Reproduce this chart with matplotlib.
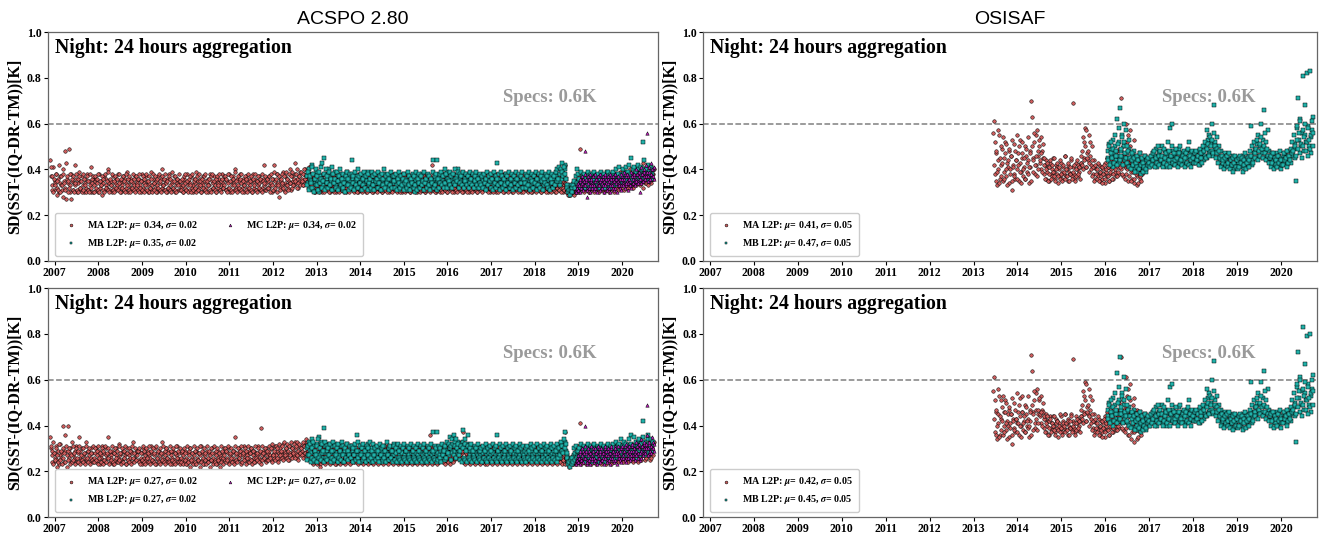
"""Night-time SD(SST - (IQ-DR-TM)) time series, ACSPO 2.80 vs OSISAF

Four panels, each record given as two interleaved weekly series (A, B)
"""
import numpy as np
import pandas as pd
import matplotlib
matplotlib.use("Agg")
from matplotlib import pyplot as plt
import matplotlib.dates as mdates

# weekly values in hundredths of K, one line ~ one year
ACSPO_TOP_MA_A = """
44 37 33 41 31 35 34 38 32 36 30 34 37 33 31 40 35 48 32 27 36 34 49 30 33 38 35 31 34 42 33 36 30 34 39 32 35 31 37 33 30 36 34 32 38 31 35 33 41 30 34 36
33 35 31 36 34 30 38 32 35 33 29 34 37 31 33 36 32 40 34 31 35 33 30 37 32 34 36 31 33 38 32 35 30 34 33 37 31 36 32 34 39 30 33 35 32 36 31 34 33 37 32 35
34 31 36 33 30 35 38 32 34 31 37 33 35 30 34 32 39 33 31 36 34 32 35 30 33 37 31 34 36 32 40 33 31 35 34 30 36 32 38 33 31 34 35 32 37 30 33 36 34 31 35 33
32 35 33 30 36 34 31 38 33 35 31 34 37 32 33 30 36 34 39 31 33 35 32 36 30 34 33 37 31 35 32 34 36 30 33 38 31 35 34 32 37 33 30 35 32 34 36 31 33 38 34 32
33 36 31 35 34 32 38 30 35 33 37 31 34 40 32 36 33 35 31 38 34 32 36 33 30 35 37 32 34 31 36 33 35 30 38 34 32 36 31 35 33 34 37 31 35 32 36 33 42 31 34 36
35 32 37 33 34 30 36 42 31 35 33 38 34 28 36 32 35 33 39 31 34 37 33 36 32 35 40 34 31 37 35 33 38 43 34 36 32 37 35 39 34 36 33 38 35 40 36 34 37 35 38 34
33 36 31 35 34 30 37 32 35 33 31 36 34 30 38 33 35 32 34 31 36 33 30 35 34 32 37 31 33 35 30 34 36 32 33 31 35 34 38 32 33 30 36 34 31 35 33 32 37 34 31 33
34 31 36 33 30 35 32 38 34 31 33 36 32 35 30 34 37 33 31 35 32 34 30 36 33 35 31 34 39 32 33 36 30 35 34 31 37 33 32 35 34 30 33 36 32 35 31 34 33 37 32 34
33 35 31 34 36 30 33 37 32 35 34 31 36 33 30 35 32 34 38 33 31 35 34 30 36 33 32 35 31 34 37 33 30 35 34 32 36 31 33 35 42 34 31 36 33 30 35 32 34 36 33 31
34 32 36 33 31 35 30 37 34 32 35 33 31 36 34 30 33 38 32 35 33 31 34 36 32 35 30 34 33 37 31 35 33 30 36 34 32 35 31 33 34 36 30 35 32 34 33 31 36 34 32 35
33 35 31 34 32 36 30 35 33 34 31 36 33 30 35 34 32 37 31 33 35 32 34 30 36 33 31 35 34 32 33 36 30 34 35 31 33 36 32 34 31 35 33 30 34 36 32 33 35 31 34 33
34 31 35 33 30 36 32 34 33 35 31 34 36 32 33 30 35 34 31 36 33 32 35 30 34 33 36 31 34 32 35 33 30 34 32 36 31 33 35 32 34 30 33 42 31 32 30 31 29 32 31 30
32 34 31 33 35 32 30 34 33 49 36 32 35 33 31 34 36 32 35 33 30 34 37 32 35 33 31 36 34 32 35 33 38 31 34 36 32 35 33 34 31 36 34 33 35 32 37 34 33 36 32 35
34 36 33 35 32 37 34 36 33 35 38 34 32 36 35 33 37 34 36 35 33 38 36 34 37 35 39 36 34 41 37 35 38 43 36 34 37 39 35 36 38 35 37 40 36 38
"""
ACSPO_TOP_MA_B = """
41 31 37 30 36 33 38 29 35 31 42 30 37 33 38 28 34 31 43 37 30 35 32 38 27 36 31 37 30 34 38 31 36 30 37 32 35 30 38 31 36 33 30 37 31 35 30 38 32 36 30 37
30 37 32 36 31 38 30 35 33 37 31 36 30 38 32 35 31 39 30 36 33 38 31 35 30 37 32 36 31 34 38 30 36 32 37 31 35 30 38 33 36 31 37 30 35 32 38 31 36 30 37 33
36 30 38 32 35 31 37 30 36 33 38 31 35 30 37 32 36 30 38 31 34 37 30 36 32 38 31 35 30 37 33 36 31 38 30 35 32 37 31 36 30 39 32 35 31 37 30 36 33 38 31 35
31 36 30 37 32 38 31 35 30 36 33 37 30 38 31 35 32 36 30 37 31 38 33 35 30 36 32 37 31 38 30 35 33 36 31 37 30 38 32 35 31 36 30 37 33 38 31 35 30 36 32 37
37 31 36 30 38 32 35 31 37 30 36 33 39 31 35 30 37 32 36 31 38 30 35 33 37 31 36 30 38 32 35 31 37 30 36 33 38 31 35 30 37 32 36 31 38 30 35 34 37 31 36 32
32 37 30 38 33 36 31 39 32 36 30 38 33 37 31 36 34 38 32 37 30 39 33 36 31 38 34 37 32 39 33 36 35 38 32 40 34 37 33 39 35 38 33 40 36 37 34 39 35 41 36 38
35 31 37 30 36 32 38 31 35 30 37 33 36 31 38 30 35 32 37 31 36 30 38 33 35 31 37 30 36 32 38 31 35 30 37 33 36 31 38 30 35 32 37 31 36 30 38 33 35 31 37 30
31 37 30 36 32 38 31 35 30 37 33 36 31 38 30 35 32 37 31 36 30 38 33 35 31 37 30 36 32 38 31 35 30 37 33 36 31 38 30 35 32 37 31 36 30 38 33 35 31 37 30 36
36 30 38 31 35 32 37 30 36 31 38 33 35 30 37 31 36 32 38 30 35 31 37 33 36 30 38 31 35 32 37 30 36 31 38 33 35 30 37 31 36 32 38 30 35 31 37 33 36 30 38 31
30 36 32 38 31 35 30 37 33 36 31 38 30 35 32 37 31 36 30 38 33 35 31 37 30 36 32 38 31 35 30 37 33 36 31 38 30 35 32 37 31 36 30 38 33 35 31 37 30 36 32 38
37 31 35 30 38 32 36 31 37 30 35 33 38 31 36 30 37 32 35 31 38 30 36 33 37 31 35 30 38 32 36 31 37 30 35 33 38 31 36 30 37 32 35 31 38 30 36 33 37 31 35 30
31 36 30 38 32 35 31 37 30 36 33 38 31 35 30 37 32 36 31 38 30 35 33 37 31 36 30 38 32 35 31 37 30 36 33 38 31 35 30 37 32 35 31 34 30 31 29 30 31 29 30 31
30 31 29 32 30 35 31 37 30 36 32 38 31 35 30 37 33 36 31 38 30 35 32 37 31 36 30 38 33 35 31 37 30 36 32 38 31 35 30 37 33 36 31 38 30 35 32 37 31 36 30 38
32 38 31 36 33 39 32 37 34 38 31 36 33 39 32 37 34 40 33 36 32 38 34 39 33 37 35 40 33 38 34 39 32 37 35 40 34 38 33 39 35 41 34 38 36 40
"""
ACSPO_TOP_MB_A = """
37 34 40 32 36 35 42 31 38 34 36 33 39 35 30 37 34 41 36 33 45 35 38 32 36 34 40 37 33 35 38 31 36 34 39 33 35 37 32 36 34 38 35 31 37 34 36 33 39 35 34 37
35 33 44 36 34 38 32 35 37 33 36 34 31 38 35 33 37 34 36 32 35 39 33 36 34 31 37 35 33 38 34 36 32 35 37 33 34 36 31 35 38 34 33 36 35 32 37 34 36 33 35 34
34 36 32 35 33 37 31 34 36 33 35 32 38 34 33 36 31 35 34 37 33 35 32 36 34 30 35 33 37 34 32 36 35 33 38 34 31 35 36 33 34 37 32 35 33 36 34 44 35 33 36 34
44 35 37 34 36 33 38 35 34 37 33 36 39 35 34 37 32 36 35 38 34 36 33 37 35 40 34 36 38 35 33 37 35 34 38 36 33 35 37 34 36 33 35 38 34 36 32 35 37 34 36 35
34 36 33 35 37 32 35 34 36 33 35 38 34 32 36 35 33 37 34 43 35 33 36 34 32 37 35 33 36 34 38 33 35 34 32 36 35 33 37 34 35 32 36 34 33 37 35 34 32 36 35 33
34 36 33 35 32 37 34 35 33 36 34 32 37 35 33 36 34 38 33 35 36 32 34 37 33 35 34 36 32 35 33 37 34 35 32 36 34 33 37 35 34 36 33 35 38 36 39 37 42 40 36 33
31 30 32 31 33 30 32 34 33 35 32 40 34 36 33 35 32 34 37 33 35 34 32 36 33 35 38 34 32 36 35 33 37 34 36 32 35 34 38 33 36 35 34 37 33 36 35 39 34 36 35 34
36 34 37 35 38 33 36 35 37 34 36 38 35 37 34 36 39 35 37 36 38 35 37 34 45 36 38 35 37 39 36 38 40 37 35 39 38 36 52 40 37 39 36 38 41 37 39 36 40 38
"""
ACSPO_TOP_MB_B = """
33 39 31 37 34 41 32 38 30 36 40 33 37 31 39 34 36 32 43 35 38 31 40 34 37 32 39 33 36 41 31 38 34 36 32 39 35 31 37 40 33 36 32 38 34 30 37 39 33 36 31 38
32 38 34 37 31 39 33 36 40 32 37 34 38 31 36 33 39 32 37 35 31 38 34 36 32 39 33 37 31 38 35 36 32 39 34 37 31 38 33 36 40 32 37 34 38 31 36 33 39 32 37 35
37 32 38 31 36 34 39 32 37 33 36 31 38 34 35 32 39 33 37 31 36 34 38 32 37 33 39 31 36 34 38 32 37 33 35 31 39 34 36 32 38 33 37 31 36 34 39 32 37 33 38 31
36 32 38 34 39 33 37 32 40 34 38 32 36 35 39 33 37 32 38 34 40 33 36 35 39 32 38 34 37 33 39 32 36 35 38 33 37 32 39 34 36 33 38 32 37 35 39 33 36 32 38 34
33 37 32 38 34 36 31 39 33 37 35 38 32 36 31 39 34 37 32 36 33 38 31 39 34 37 32 36 33 38 31 37 34 39 32 36 33 38 31 37 34 39 32 36 33 38 31 37 34 39 32 36
34 38 32 37 33 39 31 36 35 38 32 37 34 39 31 36 33 38 32 37 35 39 31 36 34 38 33 37 32 39 31 36 34 38 32 37 33 39 35 40 36 41 38 40 39 43 37 41 38 36 33 32
30 31 29 31 32 30 33 35 32 37 34 38 33 36 32 39 34 37 33 38 32 36 34 39 33 37 32 38 34 36 33 39 32 37 34 38 33 36 32 39 34 37 33 38 32 36 34 39 33 37 32 38
34 39 33 37 35 40 34 38 36 41 33 37 35 40 34 38 36 41 35 39 34 42 36 38 35 40 37 41 34 39 36 42 35 38 37 41 36 40 38 44 36 40 37 42 35 39 38 41 36 40
"""
ACSPO_TOP_MC_A = """
31 33 32 34 31 35 33 32 34 36 33 48 35 32 28 34 36 33 35 32 34 37 33 35 32 36 34 33 37 35 32 34 36 33 35 37 34 32 36 34 35 33 37 34 36 32 35 38 34 36 33 35
34 36 33 37 35 34 36 38 33 35 37 34 36 35 33 38 36 34 37 35 36 34 38 35 37 30 36 38 35 37 39 36 38 56 37 35 39 36 38 37 40 36
"""
ACSPO_TOP_MC_B = """
30 32 31 33 30 36 32 37 31 35 38 33 36 31 37 32 38 30 36 33 37 31 38 32 36 30 37 33 38 31 36 32 37 30 38 33 36 31 37 32 38 30 36 33 37 31 38 32 36 30 37 33
32 38 31 36 33 39 32 37 34 38 31 36 33 39 32 37 34 38 33 40 35 38 34 39 36 41 34 38 35 40 36 42 37 39 35 41 36 43 38 40 37 41
"""
ACSPO_BOT_MA_A = """
35 30 27 33 24 28 26 31 25 29 23 27 32 26 28 40 24 36 29 20 27 40 26 30 28 24 33 27 25 29 26 31 24 28 35 26 29 25 30 27 24 28 26 33 25 29 27 24 30 26 28 25
26 28 24 30 27 25 29 23 27 26 31 25 28 24 27 30 26 35 28 24 27 26 29 23 28 25 30 27 24 26 32 27 25 28 24 29 26 27 23 28 30 25 27 26 29 24 28 33 26 25 27 29
27 25 29 24 26 28 23 30 26 27 25 28 24 29 27 26 31 24 28 25 27 30 23 26 28 25 29 27 24 33 26 28 25 27 30 24 26 29 25 28 27 23 26 29 25 28 27 31 24 26 28 25
26 28 25 27 24 29 26 23 28 25 27 30 24 26 28 25 27 23 29 26 25 28 24 27 31 25 26 28 23 27 25 29 26 24 28 27 25 30 24 26 28 25 27 23 26 29 24 27 26 25 28 26
27 25 29 26 28 24 30 27 25 28 26 29 24 35 27 25 28 30 26 27 24 29 27 26 31 25 28 27 24 29 26 28 30 25 27 29 26 24 28 27 31 26 28 25 39 27 29 26 28 25 30 27
28 26 29 27 25 30 27 28 26 31 27 29 25 28 30 26 28 27 32 29 26 28 30 27 29 25 31 28 27 30 29 27 33 28 30 26 29 31 28 27 30 29 32 28 31 27 33 29 30 28 31 29
27 25 28 26 29 24 27 26 28 25 23 27 29 26 25 28 24 27 30 26 25 28 26 24 29 27 25 28 26 23 27 29 25 26 28 24 27 30 25 27 26 28 24 27 25 29 26 28 27 24 26 28
27 25 28 26 24 29 27 26 30 25 28 26 27 24 29 25 27 28 26 30 24 27 25 28 26 29 27 24 28 26 25 29 27 26 28 24 27 25 29 26 28 27 25 30 26 24 28 27 26 29 25 27
26 28 25 27 29 24 26 28 27 25 30 26 28 24 27 29 25 27 26 28 24 27 29 25 28 26 27 31 25 28 26 27 24 29 26 28 27 25 36 26 28 27 25 29 24 27 26 28 25 27 29 26
27 25 28 26 29 24 27 28 26 25 29 27 26 28 30 25 27 29 26 28 31 29 30 32 28 37 31 29 30 28 27 25 28 26 24 27 29 26 25 28 27 24 26 29 25 28 27 26 24 28 26 27
25 28 26 27 24 29 26 28 25 27 26 24 28 27 25 29 26 28 24 27 25 28 26 24 29 27 25 28 26 24 27 29 25 26 28 24 27 26 29 25 28 26 24 27 25 28 26 29 24 27 26 28
27 25 28 26 24 29 27 26 25 28 26 29 24 27 25 28 26 27 24 29 25 27 28 26 24 27 29 25 26 28 27 24 26 29 25 28 26 27 25 24 28 26 27 25 37 26 24 25 23 24 25 24
25 27 24 26 28 25 27 24 26 41 28 25 27 29 26 24 28 27 25 29 26 28 24 27 30 25 28 26 27 29 25 28 30 26 27 29 25 28 26 31 27 29 26 28 25 30 27 26 29 28 26 28
27 29 26 28 25 30 27 28 26 29 27 31 28 26 29 27 30 28 26 29 28 31 27 29 26 30 28 27 32 29 28 30 27 29 31 28 26 30 28 29 27 31 28 30 29 32
"""
ACSPO_BOT_MA_B = """
31 24 29 23 28 25 30 22 27 24 32 25 29 23 30 26 28 24 31 22 29 25 30 23 27 24 31 25 28 23 30 26 29 24 31 23 27 25 30 24 28 23 31 26 29 24 30 23 28 25 31 24
24 30 25 29 23 31 26 28 24 30 23 29 25 31 24 28 26 30 23 29 25 31 24 28 23 30 26 29 24 31 25 28 23 30 24 29 26 31 23 28 25 30 24 29 23 31 26 28 24 30 25 29
29 24 30 23 28 25 31 24 29 23 30 26 28 24 31 23 29 25 30 24 28 23 31 26 29 24 30 23 28 25 31 24 29 23 30 26 28 24 31 23 29 25 30 24 28 23 31 26 29 24 30 23
24 29 23 30 25 28 23 31 24 29 22 30 25 28 23 31 24 29 23 30 25 28 22 31 24 29 23 30 25 28 23 31 24 29 22 30 25 28 23 31 24 29 23 30 25 28 22 31 24 29 23 30
30 24 29 25 31 23 28 26 30 24 29 23 31 25 28 24 30 26 29 23 31 24 28 25 30 23 29 26 31 24 28 25 30 23 29 24 31 26 28 25 30 24 29 23 31 25 28 26 30 24 29 25
25 31 26 30 24 32 27 29 25 31 26 30 24 32 27 29 26 31 25 33 27 30 26 32 25 31 27 33 26 30 28 32 26 31 27 33 25 32 28 30 27 33 26 31 28 34 27 32 29 33 27 31
24 29 23 30 25 28 23 31 24 29 22 30 25 28 24 31 23 29 25 30 24 28 23 31 25 29 24 30 23 28 25 31 24 29 23 30 25 28 24 31 23 29 25 30 24 28 23 31 25 29 24 30
29 24 30 23 28 25 31 24 29 23 30 25 28 24 31 23 29 25 30 24 28 23 31 25 29 24 30 23 28 25 31 24 29 23 30 25 28 24 31 23 29 25 30 24 28 23 31 25 29 24 30 23
24 30 25 29 23 31 24 28 25 30 23 29 24 31 25 28 23 30 24 29 25 31 23 28 24 30 25 29 23 31 24 28 25 30 23 29 24 31 25 28 23 30 24 29 25 31 23 28 24 30 25 29
30 24 29 23 31 25 28 24 30 23 29 25 31 24 28 26 31 27 32 28 33 27 31 26 29 24 30 23 28 25 31 24 29 23 30 25 28 24 31 23 29 25 30 24 28 23 31 25 29 24 30 23
24 29 23 30 25 28 24 31 23 29 25 30 24 28 23 31 25 29 24 30 23 28 25 31 24 29 23 30 25 28 24 31 23 29 25 30 24 28 23 31 25 29 24 30 23 28 25 31 24 29 23 30
29 24 30 23 28 25 31 24 29 23 30 25 28 24 31 23 29 25 30 24 28 23 31 25 29 24 30 23 28 25 31 24 29 23 30 25 28 24 31 23 29 25 30 23 26 24 23 25 22 24 23 25
23 25 24 30 23 29 25 31 24 28 23 30 25 29 24 31 23 28 25 30 24 29 23 31 25 28 24 30 23 29 25 31 24 28 23 30 25 29 24 31 23 28 25 30 24 29 23 31 25 28 24 30
25 30 24 31 26 29 25 32 24 30 26 31 25 29 24 32 26 30 25 31 24 29 26 32 25 30 24 31 26 33 25 30 27 31 25 32 26 30 27 33 25 31 26 32 27 33
"""
ACSPO_BOT_MB_A = """
30 27 33 25 29 28 34 24 31 27 29 26 32 28 35 30 27 33 29 26 39 28 31 25 29 27 32 30 26 28 31 24 29 27 32 26 28 30 25 29 27 31 28 24 30 27 29 26 32 28 27 30
28 26 31 29 27 30 25 28 36 27 29 27 24 31 28 26 30 27 29 25 28 32 26 29 27 24 30 28 26 31 27 29 25 28 30 26 27 29 24 28 31 27 26 29 28 25 30 27 29 26 28 27
27 29 25 28 26 30 24 27 29 26 28 25 31 27 26 29 24 28 27 30 26 28 25 29 27 24 28 26 30 27 25 29 28 26 31 27 24 28 29 26 27 30 25 28 26 29 27 37 28 26 29 27
37 28 30 27 29 26 31 28 27 30 26 29 32 28 27 30 25 29 28 31 27 29 26 30 28 33 29 31 32 30 38 33 31 34 30 32 36 29 31 27 29 26 28 30 27 29 25 28 30 27 29 28
27 29 26 28 30 25 28 27 29 26 28 31 27 25 29 28 26 30 27 36 28 26 29 27 25 30 28 26 29 27 31 26 28 27 25 29 28 26 30 27 28 25 29 27 26 30 28 27 25 29 28 26
27 29 26 28 25 30 27 28 26 29 27 25 30 28 26 29 27 31 26 28 29 25 27 30 26 28 27 29 25 28 26 30 27 28 25 29 27 26 30 28 27 29 26 28 31 29 32 30 37 33 29 27
24 23 25 24 26 23 25 27 26 28 25 29 27 28 26 28 25 27 30 26 28 27 25 29 26 28 31 27 25 29 28 26 30 27 29 25 28 27 30 26 29 28 27 30 26 29 28 31 27 29 28 27
29 27 30 28 31 26 29 28 30 27 29 31 28 30 27 29 32 28 30 29 31 28 30 27 36 29 31 28 30 32 29 31 33 30 28 32 31 29 42 33 30 32 29 31 34 30 32 29 33 31
"""
ACSPO_BOT_MB_B = """
25 31 27 32 24 30 26 33 25 29 27 31 24 34 26 30 25 32 28 29 24 33 26 31 25 30 27 32 24 29 26 33 25 31 27 30 24 32 26 29 25 33 27 31 24 30 26 32 25 29 27 31
26 31 24 30 27 32 25 29 26 33 24 31 27 30 25 32 26 29 24 31 27 30 25 33 26 29 24 32 27 30 25 31 26 29 24 32 27 30 25 31 26 29 24 33 27 30 25 31 26 29 24 32
31 25 30 24 32 26 29 25 31 24 30 26 32 25 29 24 31 26 30 25 32 24 29 26 31 25 30 24 32 26 29 25 31 24 30 26 32 25 29 24 31 26 30 25 32 24 29 26 31 25 30 24
25 31 26 30 24 32 27 29 25 31 26 33 28 32 30 35 31 34 32 36 33 31 34 30 32 27 29 25 31 24 30 26 32 25 29 24 31 26 30 25 32 24 29 26 31 25 30 24 32 26 29 25
30 24 31 26 29 25 32 24 30 26 31 25 29 24 32 26 30 25 31 24 29 26 32 25 30 24 31 26 29 25 32 24 30 26 31 25 29 24 32 26 30 25 31 24 29 26 32 25 30 24 31 26
25 30 24 31 26 29 25 32 24 30 26 31 25 29 24 32 26 30 25 31 24 29 26 32 25 30 24 31 26 29 25 32 24 30 26 31 25 29 24 32 26 30 27 33 29 31 28 34 30 32 26 28
23 24 22 25 23 26 24 30 25 31 26 29 24 30 27 32 25 29 26 31 24 30 27 32 25 29 26 31 24 30 27 32 25 29 26 31 24 30 27 32 25 29 26 31 24 30 27 32 25 29 26 31
26 32 27 30 25 33 28 31 26 32 27 34 28 31 26 33 29 32 27 30 28 34 26 32 29 31 27 35 28 33 26 31 29 34 27 32 28 35 30 33 27 31 29 36 28 32 30 34 29 33
"""
ACSPO_BOT_MC_A = """
24 26 25 27 24 28 26 25 27 29 26 40 28 25 23 27 29 26 28 25 27 30 26 28 25 29 27 26 30 28 25 27 29 26 28 30 27 25 29 27 28 26 30 27 29 25 28 31 27 29 26 28
27 29 26 30 28 27 29 31 26 28 30 27 29 28 26 31 29 27 30 28 29 27 31 28 30 25 29 31 28 30 32 29 31 49 30 28 32 29 31 30 33 29
"""
ACSPO_BOT_MC_B = """
23 25 24 26 23 29 25 30 24 28 31 26 29 24 30 25 28 23 31 26 29 24 30 25 28 23 31 26 29 24 30 25 28 23 31 26 29 24 30 25 28 23 31 26 29 24 30 25 28 23 31 26
25 30 24 31 26 29 25 32 24 30 26 31 25 29 27 32 26 30 25 33 27 31 26 32 28 34 26 31 27 33 28 32 30 36 27 33 29 31 28 35 30 32
"""
OSISAF_TOP_MA_A = """
56 61 38 47 33 44 40 55 36 42 49 35 45 39 52 37 43 41 34 48 40 46 31 42 38 51 36 44 40 47 35 43 53 39 45 37 41 50 36 46 39 44 34 48 41 70 63 45 52 38 55 42
57 46 50 43 54 40 48 45 38 42 36 44 39 41 35 43 38 40 37 45 39 36 42 38 41 34 40 37 43 39 36 41 38 46 37 40 35 42 39 38 44 37 41 69 38 36 43 40 37 42 39 41
43 48 40 52 45 58 41 47 44 55 39 46 42 50 38 44 41 36 40 38 37 42 35 39 41 36 40 38 34 43 39 37 41 35 44 38 40 47 36 42 39 44 37 48 41 38 45 40 71 43 37 46
41 60 38 52 35 44 57 39 42 36 48 34 40 45 37 33 43 39 36 41 38
"""
OSISAF_TOP_MA_B = """
42 52 35 48 39 57 34 45 50 37 43 54 36 47 40 51 33 44 49 38 46 35 53 41 37 48 44 55 36 42 50 39 34 47 52 40 45 36 49 43 38 54 41 47 35 50 44 39 56 42 46 37
48 40 53 44 47 39 51 42 45 36 40 43 35 41 38 44 36 42 39 37 45 35 40 43 37 41 36 44 38 35 42 39 46 36 40 37 43 35 41 38 45 36 39 42 35 40 37 44 38 41 36 43
46 42 54 44 50 41 57 45 48 43 52 40 44 37 41 35 42 38 36 40 43 35 39 37 41 34 38 42 36 40 45 37 41 35 39 43 36 42 38 44 40 46 37 43 39 49 41 45 38 50 42 44
36 47 40 55 37 43 50 35 45 39 53 36 41 38 46 34 40 37 44 35 39
"""
OSISAF_TOP_MB_A = """
48 45 51 43 49 46 53 41 47 50 44 62 46 52 43 67 48 55 45 60 50 44 57 47 42 49 53 45 41 46 43 48 40 44 46 39 42 45 41 47 38 43 44 40 46 42 39 45 43 41 44 42
45 43 47 42 46 44 49 41 45 47 43 46 44 50 42 45 48 44 46 41 47 43 58 45 60 44 48 42 46 45 43 47 44 49 42 46 45 43 47 44 46 42 48 45 43 52 44 47 45 43 46 44
45 47 43 46 44 48 42 46 45 47 44 49 46 50 45 53 47 55 48 51 60 46 68 49 52 47 54 45 50 46 44 48 42 45 43 47 41 44 46 42 43 45 41 44 42 46 40 43 45 42 44 41
43 45 41 44 42 46 40 43 45 42 44 41 46 43 59 45 42 44 47 49 45 51 48 55 46 50 60 47 53 45 66 49 52 46 57 44 48 45 43 47 44 46 42 45 43 47 41 46 44 42 45 43
44 46 43 47 45 42 46 44 48 45 43 47 46 49 45 51 35 58 71 53 47 62 50 56 81 48 55 68 52 82 59 50 83 54 47 57 63
"""
OSISAF_TOP_MB_B = """
44 50 42 47 52 45 49 43 55 46 48 42 51 58 44 49 46 54 42 52 47 45 50 43 48 41 45 40 44 47 42 45 39 43 46 41 44 40 47 42 45 39 43 41 46 40 44 42 45 43 41 46
42 47 44 48 41 45 43 50 46 42 48 44 46 41 49 43 45 47 42 52 44 48 41 46 50 43 47 44 42 49 45 41 47 43 50 44 42 46 48 41 45 47 43 49 42 46 44 41 48 45 43 47
43 48 44 46 42 49 45 47 43 50 48 52 45 57 49 51 46 54 50 48 53 47 56 50 45 49 47 43 48 45 41 46 43 44 40 45 42 46 41 43 47 40 44 42 45 39 43 46 41 44 40 45
41 46 43 45 39 44 42 47 40 43 45 41 44 48 46 50 43 52 47 45 49 53 44 48 51 46 54 49 45 50 47 56 44 49 46 43 45 41 46 43 47 40 45 42 44 41 46 43 48 40 44 42
42 47 44 45 41 48 43 46 44 49 47 52 48 55 50 46 53 59 49 56 61 51 45 57 50 54 60 48 52 58 46 53 49 55 61 50 56
"""
OSISAF_BOT_MA_A = """
55 61 37 46 34 45 41 53 36 43 48 36 46 40 51 38 42 40 35 47 41 45 32 43 39 50 37 43 41 46 36 44 52 40 46 38 42 49 37 45 40 43 35 47 42 71 64 46 51 39 54 43
56 45 51 44 53 41 47 46 39 43 37 45 40 42 36 44 39 41 38 44 40 37 43 39 42 35 41 38 44 40 37 42 39 45 38 41 36 43 40 39 45 38 42 69 39 37 44 41 38 43 40 42
44 49 41 53 46 59 42 48 45 56 40 47 43 51 39 45 42 37 41 39 38 43 36 40 42 37 41 39 35 44 40 38 42 36 45 39 41 48 37 43 40 45 38 47 42 39 46 41 70 44 38 47
42 61 39 53 36 45 58 40 43 37 49 33 41 46 38 34 44 40 37 42 39
"""
OSISAF_BOT_MA_B = """
43 51 36 47 40 56 35 44 51 38 42 53 37 46 41 50 34 45 48 39 45 36 52 42 38 47 43 54 37 41 49 40 35 46 53 41 44 37 48 42 39 53 40 46 36 49 45 38 55 41 47 38
47 41 52 45 46 40 50 43 44 37 41 44 36 42 39 43 37 41 40 38 44 36 41 42 38 40 37 45 39 36 41 40 45 37 41 38 42 36 42 39 44 37 40 41 36 41 38 43 39 42 37 44
47 43 55 45 51 42 58 46 49 44 53 41 45 38 42 36 43 39 37 41 44 36 40 38 42 35 39 43 37 41 46 38 42 36 40 44 37 43 39 45 41 47 38 44 40 50 42 46 39 51 43 45
37 48 41 56 36 44 51 34 46 40 52 37 42 39 47 35 41 38 45 36 40
"""
OSISAF_BOT_MB_A = """
47 44 50 42 48 45 52 40 46 49 43 63 45 51 42 70 47 54 44 61 49 43 56 46 41 48 52 44 40 45 42 47 39 43 45 38 41 44 40 46 37 42 43 39 45 41 38 44 42 40 43 41
44 42 46 41 45 43 48 40 44 46 42 45 43 49 41 44 47 43 45 40 46 42 57 44 58 43 47 41 45 44 42 46 43 48 41 45 44 42 46 43 45 41 47 44 42 51 43 46 44 42 45 43
44 46 42 45 43 47 41 45 44 46 43 48 45 49 44 52 46 54 47 50 60 45 68 48 51 46 53 44 49 45 43 47 41 44 42 46 40 43 45 41 42 44 40 43 41 45 39 42 44 41 43 40
42 44 40 43 41 45 39 42 44 41 43 40 45 42 59 44 41 43 46 48 44 50 47 54 45 49 59 46 52 44 64 48 51 45 56 43 47 44 42 46 43 45 41 44 42 46 40 45 43 41 44 42
43 45 42 46 44 41 45 43 47 44 42 46 45 48 44 50 33 57 72 52 46 61 49 55 83 47 54 67 51 79 58 49 80 53 46 56 62
"""
OSISAF_BOT_MB_B = """
43 49 41 46 51 44 48 42 54 45 47 41 50 57 43 48 45 53 41 51 46 44 49 42 47 40 44 39 43 46 41 44 38 42 45 40 43 39 46 41 44 38 42 40 45 39 43 41 44 42 40 45
41 46 43 47 40 44 42 49 45 41 47 43 45 40 48 42 44 46 41 51 43 47 40 45 49 42 46 43 41 48 44 40 46 42 49 43 41 45 47 40 44 46 42 48 41 45 43 40 47 44 42 46
42 47 43 45 41 48 44 46 42 49 47 51 44 56 48 50 45 53 49 47 52 46 55 49 44 48 46 42 47 44 40 45 42 43 39 44 41 45 40 42 46 39 43 41 44 38 42 45 40 43 39 44
40 45 42 44 38 43 41 46 39 42 44 40 43 47 45 49 42 51 46 44 48 52 43 47 50 45 53 48 44 49 46 55 43 48 45 42 44 40 45 42 46 39 44 41 43 40 45 42 47 39 43 41
41 46 43 44 40 47 42 45 43 48 46 51 47 54 49 45 52 58 48 55 60 50 44 56 49 53 59 47 51 57 45 52 48 54 60 49 55
"""

# first sample date of each satellite record
START_MA = "2006-11-25"
START_MB = "2012-10-12"
START_MC = "2018-12-10"
START_OSI_MA = "2013-06-15"
START_OSI_MB = "2016-01-20"

# legend statistics (mu, sigma)
ACSPO_TOP_STATS = [(0.34, 0.02), (0.35, 0.02), (0.34, 0.02)]
ACSPO_BOT_STATS = [(0.27, 0.02), (0.27, 0.02), (0.27, 0.02)]
OSISAF_TOP_STATS = [(0.41, 0.05), (0.47, 0.05)]
OSISAF_BOT_STATS = [(0.42, 0.05), (0.45, 0.05)]

SATS = ["MA", "MB", "MC"]
COLORS = ["#cd5c5c", "#20b2aa", "#b51cb5"]
MARKERS = ["o", "s", "^"]

SPEC = 0.6
XLIM = ("2006-11-05", "2020-10-28")

plt.rcParams['font.family'] = ['Liberation Serif', 'DejaVu Serif']
plt.rcParams['font.weight'] = 'bold'
plt.rcParams['mathtext.fontset'] = 'stix'


def weekly(text, start, shift_days=0.0):
    """turn a block of weekly values into (dates, values)"""
    vals = np.array(text.split(), dtype=float) / 100.0
    first = pd.Timestamp(start) + pd.Timedelta(days=shift_days)
    dates = pd.date_range(first, periods=len(vals), freq="7D")
    return dates, vals


def draw_panel(ax, records, stats, ncol):
    """scatter the records of one panel and decorate it"""
    for i, (text_a, text_b, start) in enumerate(records):
        mu, sd = stats[i]
        label = r"%s L2P: $\mu$= %.2f, $\sigma$= %.2f" % (SATS[i], mu, sd)
        size = 6 if MARKERS[i] == "^" else 6.5
        for text, shift in ((text_a, 0.0), (text_b, 3.5)):
            dates, vals = weekly(text, start, shift)
            ax.scatter(dates, vals, s=size, marker=MARKERS[i], c=COLORS[i],
                       edgecolors="black", linewidths=0.35, zorder=2 + i,
                       label=label if shift == 0.0 else None)

    ax.axhline(SPEC, color="grey", ls="--", lw=1.1, zorder=1)
    ax.text(pd.Timestamp("2018-05-10"), 0.715, "Specs: 0.6K",
            color="#9a9a9a", fontsize=13.5, fontweight="bold",
            ha="center", va="center")
    ax.text(0.012, 0.975, "Night: 24 hours aggregation",
            transform=ax.transAxes, fontsize=14.2, fontweight="bold",
            va="top", ha="left")

    ax.set_ylim(0, 1)
    ax.set_yticks(np.arange(0, 1.01, 0.2))
    ax.set_xlim(pd.Timestamp(XLIM[0]), pd.Timestamp(XLIM[1]))
    ax.xaxis.set_major_locator(mdates.YearLocator())
    ax.xaxis.set_major_formatter(mdates.DateFormatter("%Y"))
    ax.tick_params(labelsize=8.5, length=3, width=0.8, pad=1.5)
    ax.set_ylabel("SD(SST-(IQ-DR-TM))[K]", fontsize=11.5, fontweight="bold",
                  labelpad=3)
    for sp in ax.spines.values():
        sp.set_color("#666666")
        sp.set_linewidth(0.9)

    ax.legend(loc="lower left", ncol=ncol, fontsize=7.2, markerscale=0.8,
              handletextpad=0.6, columnspacing=2.2, borderpad=0.6,
              labelspacing=0.5, framealpha=1, edgecolor="#cccccc",
              bbox_to_anchor=(0.003, 0.0))


def main():
    fig = plt.figure(figsize=(13.22, 5.37), dpi=100)
    axes = [
        fig.add_axes([0.0363, 0.514, 0.4614, 0.4264]),
        fig.add_axes([0.5318, 0.514, 0.4646, 0.4264]),
        fig.add_axes([0.0363, 0.037, 0.4614, 0.4264]),
        fig.add_axes([0.5318, 0.037, 0.4646, 0.4264]),
    ]

    draw_panel(axes[0], [(ACSPO_TOP_MA_A, ACSPO_TOP_MA_B, START_MA),
                         (ACSPO_TOP_MB_A, ACSPO_TOP_MB_B, START_MB),
                         (ACSPO_TOP_MC_A, ACSPO_TOP_MC_B, START_MC)],
               ACSPO_TOP_STATS, 2)
    draw_panel(axes[1], [(OSISAF_TOP_MA_A, OSISAF_TOP_MA_B, START_OSI_MA),
                         (OSISAF_TOP_MB_A, OSISAF_TOP_MB_B, START_OSI_MB)],
               OSISAF_TOP_STATS, 1)
    draw_panel(axes[2], [(ACSPO_BOT_MA_A, ACSPO_BOT_MA_B, START_MA),
                         (ACSPO_BOT_MB_A, ACSPO_BOT_MB_B, START_MB),
                         (ACSPO_BOT_MC_A, ACSPO_BOT_MC_B, START_MC)],
               ACSPO_BOT_STATS, 2)
    draw_panel(axes[3], [(OSISAF_BOT_MA_A, OSISAF_BOT_MA_B, START_OSI_MA),
                         (OSISAF_BOT_MB_A, OSISAF_BOT_MB_B, START_OSI_MB)],
               OSISAF_BOT_STATS, 1)

    for ax, title in zip(axes[:2], ["ACSPO 2.80", "OSISAF"]):
        ax.set_title(title, family=["Liberation Sans", "DejaVu Sans"],
                     fontweight="normal", fontsize=14, pad=6)

    fig.savefig("out.png", dpi=100)


if __name__ == '__main__':
    main()
